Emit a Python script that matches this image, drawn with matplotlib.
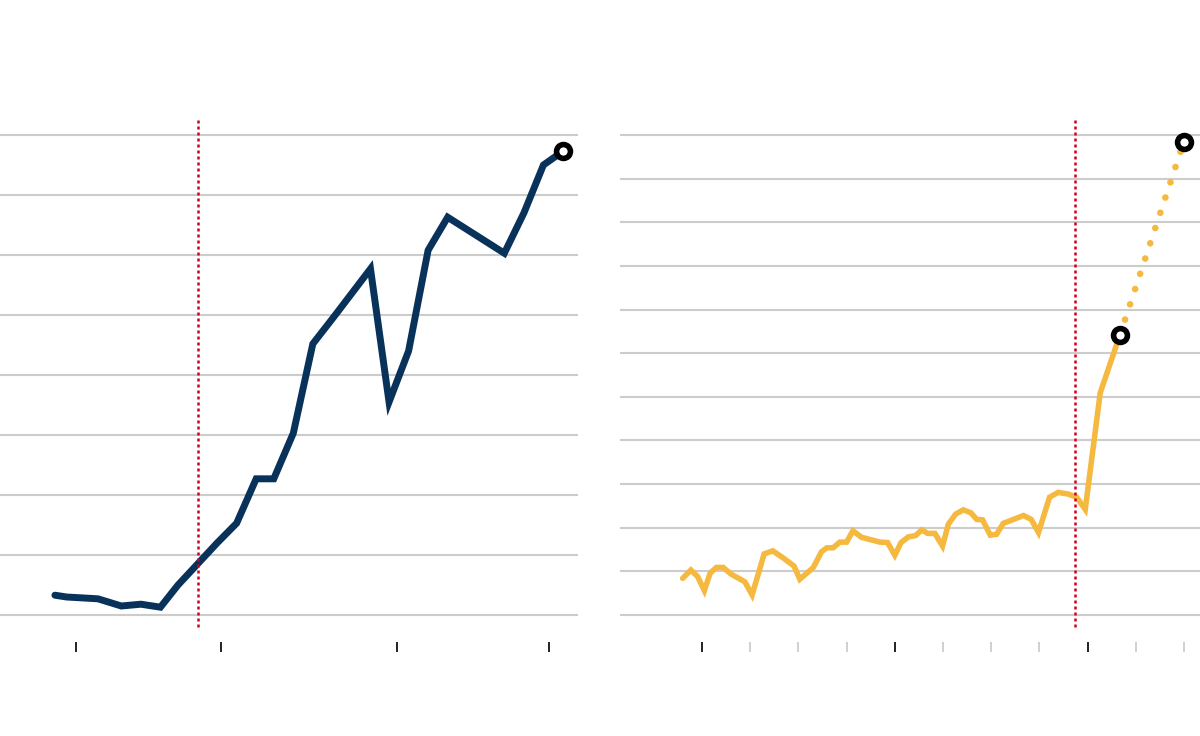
import matplotlib.pyplot as plt

# left panel: annual series
left_x = [1995.0, 1995.6, 1997.2, 1998.4, 1999.4, 2000.4, 2001.3, 2003.3, 2004.3,
          2005.3, 2006.2, 2007.2, 2008.2, 2009.3, 2011.15, 2012.1, 2013.1, 2014.1,
          2015.1, 2018.0, 2019.0, 2020.0, 2021.0]
left_y = [3.3, 3.0, 2.7, 1.5, 1.8, 1.3, 5.0, 12.0, 15.3, 22.7, 22.7, 30.3, 45.2,
          49.8, 57.7, 35.5, 44.0, 60.8, 66.3, 60.3, 67.0, 75.0, 77.3]
left_grid = [0, 10, 20, 30, 40, 50, 60, 70, 80]
left_ticks = [1996.1, 2003.5, 2012.5, 2020.3]
left_mark = 2002.32

# right panel: sub-annual series plus a projection
right_x = [1999.60, 1999.77, 1999.91, 2000.05, 2000.17, 2000.30, 2000.44, 2000.60,
           2000.89, 2001.04, 2001.29, 2001.47, 2001.72, 2001.91, 2002.03, 2002.31,
           2002.48, 2002.59, 2002.72, 2002.86, 2003.00, 2003.13, 2003.31, 2003.69,
           2003.85, 2004.00, 2004.13, 2004.28, 2004.43, 2004.56, 2004.68, 2004.83,
           2004.99, 2005.11, 2005.26, 2005.42, 2005.58, 2005.70, 2005.82, 2005.98,
           2006.11, 2006.25, 2006.67, 2006.83, 2006.98, 2007.21, 2007.39, 2007.60,
           2007.77, 2007.95, 2008.26, 2008.67]
right_y = [0.84, 1.03, 0.88, 0.56, 0.96, 1.09, 1.09, 0.94,
           0.76, 0.46, 1.40, 1.47, 1.28, 1.12, 0.82, 1.09,
           1.45, 1.54, 1.54, 1.67, 1.67, 1.93, 1.78, 1.67,
           1.66, 1.37, 1.66, 1.79, 1.82, 1.95, 1.87, 1.87,
           1.58, 2.08, 2.31, 2.41, 2.34, 2.19, 2.18, 1.83,
           1.85, 2.10, 2.28, 2.19, 1.89, 2.70, 2.81, 2.77,
           2.70, 2.42, 5.09, 6.42]
proj_x = [2008.67, 2009.99]
proj_y = [6.42, 10.83]
right_grid = list(range(12))
right_major = [2000, 2004, 2008]
right_minor = [2001, 2002, 2003, 2005, 2006, 2007, 2009, 2010]
right_mark = 2007.74

navy = '#08325a'
gold = '#f6b940'
red = '#d0021b'
gridc = '#cccccc'

fig = plt.figure(figsize=(12, 7.36), dpi=100)
H = 736.0
bottom = (H - 642) / H
height = (642 - 110) / H
ax1 = fig.add_axes([0, bottom, 578 / 1200, height])
ax2 = fig.add_axes([620 / 1200, bottom, 580 / 1200, height])

for ax in (ax1, ax2):
    for s in ax.spines.values():
        s.set_visible(False)
    ax.yaxis.grid(True, color=gridc, lw=1.5)
    ax.set_axisbelow(True)
    ax.tick_params(axis='y', length=0, labelleft=False)
    ax.tick_params(axis='x', which='both', direction='out', length=7.2, width=1.4,
                   labelbottom=False)

# left
ax1.set_xlim(1992.19, 2021.77)
ax1.set_ylim(-4.5, 84.17)
ax1.set_yticks(left_grid)
ax1.set_xticks(left_ticks)
ax1.tick_params(axis='x', color='#222222')
ax1.plot(left_x, left_y, color=navy, lw=5, solid_capstyle='round',
         solid_joinstyle='miter', zorder=3)
ax1.plot(left_x[-1], left_y[-1], 'o', ms=10, mew=4, mfc='white', mec='black',
         zorder=5, clip_on=False)
ax1.vlines(left_mark, -2.0, 82.83, color=red, lw=1.8, linestyles=(0, (1.2, 1.2)),
           zorder=4)

# right
ax2.set_xlim(1998.30, 2010.33)
ax2.set_ylim(-0.619, 11.573)
ax2.set_yticks(right_grid)
ax2.set_xticks(right_major)
ax2.set_xticks(right_minor, minor=True)
ax2.tick_params(axis='x', which='major', color='#222222')
ax2.tick_params(axis='x', which='minor', color='#d0d0d0')
ax2.plot(right_x, right_y, color=gold, lw=4, solid_capstyle='round',
         solid_joinstyle='miter', zorder=3)
ax2.plot(proj_x, proj_y, color=gold, lw=4.8, linestyle=(0, (0.01, 2.4)),
         dash_capstyle='round', zorder=3)
ax2.plot([proj_x[0], proj_x[-1]], [proj_y[0], proj_y[-1]], 'o', ms=10, mew=4,
         mfc='white', mec='black', zorder=5, clip_on=False)
ax2.vlines(right_mark, -0.275, 11.39, color=red, lw=1.8, linestyles=(0, (1.2, 1.2)),
           zorder=4)

fig.savefig('out.png', dpi=100)
